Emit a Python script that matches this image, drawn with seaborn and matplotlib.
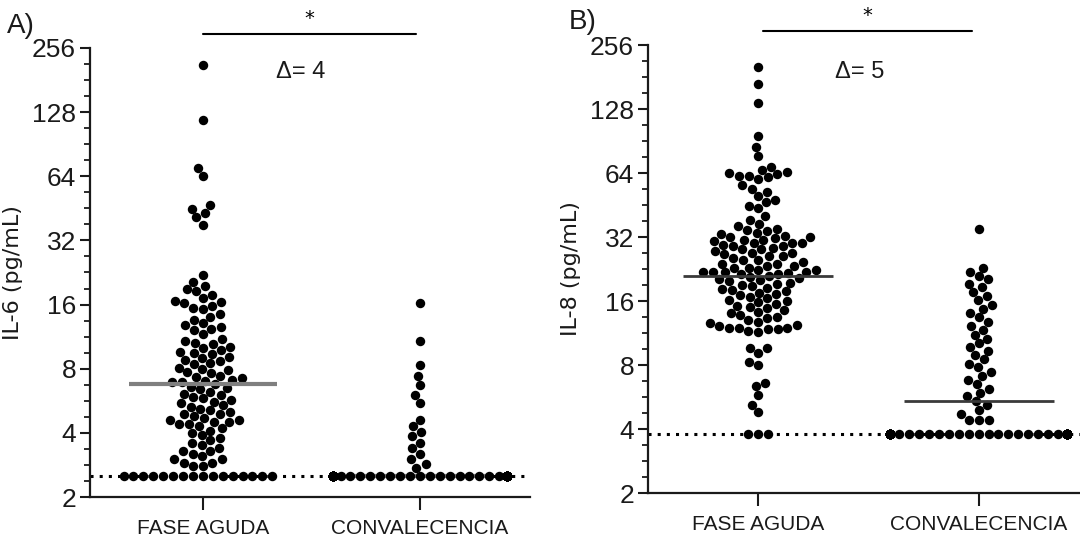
import matplotlib
matplotlib.use("Agg")
import matplotlib.pyplot as plt
import matplotlib.ticker as mticker
import pandas as pd
import seaborn as sns

# ---------------- data ----------------
categories = ["FASE AGUDA", "CONVALECENCIA"]
y_ticks = [2, 4, 8, 16, 32, 64, 128, 256]
y_tick_labels = ["2", "4", "8", "16", "32", "64", "128", "256"]

il6_aguda = [212, 118, 70, 64, 47, 45, 43, 41, 38,
             22, 20.5, 19.6, 19.0, 18.6, 17.8, 17.2, 16.6, 16.4, 16.2, 15.8, 15.4, 15.2,
             14.4, 14.0, 13.6, 13.1, 12.8, 12.6, 12.3, 12.2, 11.6, 11.0,
             10.8, 10.6, 10.4, 10.1, 10.0, 9.8, 9.6, 9.5, 9.4, 9.1, 9.0, 8.8, 8.7, 8.5,
             8.4, 8.1, 8.0, 7.9, 7.7, 7.6, 7.4, 7.3, 7.2, 7.1, 7.0, 6.9, 6.9, 6.8,
             6.6, 6.5, 6.4, 6.2, 6.1, 6.0, 5.9, 5.8, 5.7, 5.6, 5.5, 5.4, 5.3, 5.2,
             5.1, 5.0, 4.9, 4.9, 4.8, 4.7, 4.6, 4.6, 4.5, 4.5, 4.4, 4.4,
             4.3, 4.2, 4.1, 4.0, 3.9, 3.8, 3.7, 3.6, 3.5, 3.4, 3.3, 3.3, 3.2, 3.1,
             3.0, 3.0, 2.9, 2.9, 2.8, 2.8,
             2.5, 2.5, 2.5, 2.5, 2.5, 2.5, 2.5, 2.5, 2.5, 2.5, 2.5, 2.5, 2.5, 2.5, 2.5, 2.5]

il6_conv = [16.2, 10.8, 8.3, 7.4, 6.7, 6.0, 5.5, 4.6, 4.3, 4.05, 3.85, 3.6, 3.4,
            3.2, 3.0, 2.85, 2.75] + [2.5] * 100

il8_aguda = [202, 168, 136, 96, 85, 77,
             68, 66, 65, 64, 63, 62, 62, 61, 60,
             56, 54, 52, 50, 48, 47, 45, 44,
             40, 38.5, 37, 36, 35,
             34.5, 34, 33.5, 33, 32.5, 32, 32, 31.5, 31, 31, 30.5, 30, 30, 30, 29.5,
             29, 29, 28.5, 28, 28, 27.5, 27, 27, 26.5, 26, 26, 25.5, 25, 25, 24.5,
             24, 24, 23.5, 23.5, 23, 23, 22.5, 22.5, 22, 22, 22, 21.8, 21.6, 21.5, 21.4,
             21, 20.8, 20.5, 20.2, 20, 19.8, 19.5, 19.2, 19, 18.8, 18.5, 18.2, 18,
             17.8, 17.5, 17.2, 17, 16.8, 16.5, 16.2, 16, 15.8, 15.5, 15.2, 15, 14.8,
             14.5, 14.2, 14, 13.8, 13.5, 13.3, 13, 12.8, 12.6, 12.4, 12.2, 12, 12, 12,
             11.8, 11.8, 11.6, 11.5,
             9.6, 9.6, 9.1, 8.3, 8.0, 6.6, 6.4, 5.8, 5.2, 4.8,
             3.8, 3.8, 3.8]

il8_conv = [35,
            23, 22, 21, 20.2, 19.3, 18.6, 17.6, 16.9, 16.1, 15.3, 14.7, 14.0,
            13.4, 12.8, 12.2, 11.7, 11.1, 10.6, 10.1, 9.7, 9.3, 8.9, 8.5, 8.1,
            7.8, 7.4, 7.1, 6.8, 6.5, 6.2, 5.9, 5.7, 5.4, 5.2, 4.9, 4.7,
            4.4, 4.4, 4.4] + [3.8] * 100

il6_lines = [6.8, 2.5]
il8_lines = [21.0, 5.4]
limits = [2.5, 3.8]
panel_labels = ["A)", "B)"]
y_labels = ["IL-6 (pg/mL)", "IL-8 (pg/mL)"]
sig_marks = ["*", "*"]
delta_labels = ["\u0394= 4", "\u0394= 5"]

# ---------------- style ----------------
sns.set_style("ticks")
plt.rcParams["font.family"] = ["Liberation Sans", "DejaVu Sans"]

fig = plt.figure(figsize=(10.8, 5.39), dpi=100)
axA = fig.add_axes([0.0833, 0.0779, 0.4074, 0.8331])
axB = fig.add_axes([0.6, 0.0853, 0.4, 0.8312])

panels = [
    (axA, il6_aguda, il6_conv, il6_lines, "#7f7f7f", 3.0, (-0.52, 1.507), (0.0, 0.98), (0.45, 197), -0.152),
    (axB, il8_aguda, il8_conv, il8_lines, "#3a3a3a", 2.0, (-0.5, 1.46), (0.02, 0.97), (0.46, 192), -0.155),
]

for i, (ax, agu, conv, lines, lcol, lw, xl, bar, dpos, ylx) in enumerate(panels):
    df = pd.DataFrame({"grupo": [categories[0]] * len(agu) + [categories[1]] * len(conv),
                       "valor": agu + conv})
    sns.swarmplot(data=df, x="grupo", y="valor", order=categories, color="black",
                  size=6.8, linewidth=0, log_scale=2, warn_thresh=1, ax=ax, zorder=3)
    ax.set_ylim(2, 256)
    ax.set_xlim(*xl)
    ax.axhline(limits[i], color="black", lw=2.2, ls=(0, (1, 2)), zorder=2)
    for k, v in enumerate(lines):
        z = 2.5 if v <= limits[i] else 4
        ax.hlines(v, k - 0.34, k + 0.34, color=lcol, lw=lw, zorder=z)

    ax.yaxis.set_major_locator(mticker.FixedLocator(y_ticks))
    ax.yaxis.set_major_formatter(mticker.FixedFormatter(y_tick_labels))
    ax.yaxis.set_minor_locator(mticker.LogLocator(base=2, subs=[2 ** 0.25, 2 ** 0.5, 2 ** 0.75], numticks=50))
    ax.yaxis.set_minor_formatter(mticker.NullFormatter())

    for s in ["top", "right"]:
        ax.spines[s].set_visible(False)
    for s in ["left", "bottom"]:
        ax.spines[s].set_linewidth(1.6)
        ax.spines[s].set_color("#1a1a1a")
    ax.tick_params(axis="y", which="major", length=7, width=1.5, labelsize=19,
                   colors="#1a1a1a", pad=3)
    ax.tick_params(axis="y", which="minor", length=4, width=1.3, colors="#1a1a1a")
    ax.tick_params(axis="x", length=9, width=1.5, labelsize=15, colors="#1a1a1a", pad=7)
    ax.set_xlabel("")
    ax.set_ylabel(y_labels[i], family=["DejaVu Sans"], fontsize=16, color="#1a1a1a")
    ax.yaxis.set_label_coords(ylx, 0.5)

    # significance bar
    ax.plot(bar, [298, 298], color="black", lw=1.5, clip_on=False, zorder=5)
    ax.text((bar[0] + bar[1]) / 2, 318, sig_marks[i], ha="center", va="bottom",
            fontsize=14, color="black", family=["DejaVu Sans"])
    ax.text(dpos[0], dpos[1], delta_labels[i], ha="center", va="center",
            fontsize=17, color="#1a1a1a")

fig.text(0.006, 0.952, panel_labels[0], fontsize=20, color="#1a1a1a", va="center")
fig.text(0.527, 0.959, panel_labels[1], fontsize=20, color="#1a1a1a", va="center")

fig.savefig("out.png", dpi=100)
